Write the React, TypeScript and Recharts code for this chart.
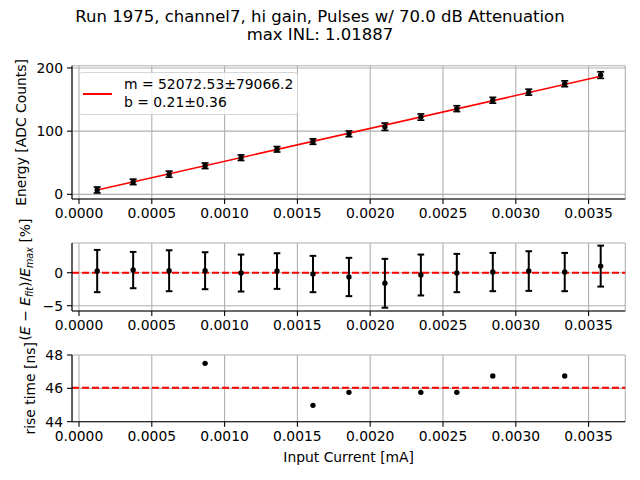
import React from 'react';
import {
  ComposedChart,
  Scatter,
  XAxis,
  YAxis,
  CartesianGrid,
  ErrorBar,
  ReferenceLine,
} from 'recharts';

// input current [mA] for each pulse setting
const currents = [
  0.000125, 0.000372, 0.000619, 0.000866, 0.001113, 0.00136, 0.001607, 0.001854,
  0.002101, 0.002348, 0.002595, 0.002842, 0.003089, 0.003336, 0.003583,
];
const energy = [6.9, 19.7, 31.9, 45.2, 58.0, 71.3, 83.5, 95.7, 107.0, 122.3, 135.6, 148.9, 161.7, 175.0, 188.8];
const energyErr = [4.7, 4.3, 4.8, 4.4, 4.4, 4.3, 4.3, 4.5, 5.8, 4.9, 4.6, 4.6, 4.7, 4.6, 5.2];
const residual = [0.25, 0.4, 0.3, 0.3, -0.05, 0.25, -0.2, -0.65, -1.6, -0.35, -0.05, 0.1, 0.25, 0.1, 1.0];
const residualErr = [3.2, 2.75, 3.1, 2.8, 2.8, 2.7, 2.75, 2.9, 3.7, 3.1, 2.9, 2.9, 3.0, 2.9, 3.1];
const riseCurrents = [0.000866, 0.001607, 0.001854, 0.002348, 0.002595, 0.002842, 0.003336];
const riseTimes = [47.5, 44.98, 45.76, 45.76, 45.76, 46.74, 46.74];
const riseMean = 46.03;
const fitCurrents = [0.000125, 0.003583];
const fitEnergy = [6.7, 186.8];

const xTicks = [0, 0.0005, 0.001, 0.0015, 0.002, 0.0025, 0.003, 0.0035];
const energyTicks = [0, 100, 200];
const residualTicks = [-5, 0];
const riseTicks = [44, 46, 48];

const X_DOMAIN: [number, number] = [-0.000048, 0.003752];
const FONT = 'DejaVu Sans';
const GRID = '#b0b0b0';

const energyData = currents.map((x, i) => ({ x, y: energy[i], err: energyErr[i] }));
const residualData = currents.map((x, i) => ({ x, y: residual[i], err: residualErr[i] }));
const riseData = riseCurrents.map((x, i) => ({ x, y: riseTimes[i] }));
const fitData = fitCurrents.map((x, i) => ({ x, y: fitEnergy[i] }));

const tickStyle = { fontSize: 13.9, fill: '#000', fontFamily: FONT };
const fmtY = (v: number) => (v < 0 ? '\u2212' + Math.abs(v) : String(v));
const dot = (p: any) => <circle cx={p.cx} cy={p.cy} r={2.7} fill="#000" />;

function xAxes(label?: any) {
  return [
    <XAxis
      key="x"
      xAxisId={0}
      type="number"
      dataKey="x"
      domain={X_DOMAIN}
      ticks={xTicks}
      allowDataOverflow
      tickFormatter={(v: number) => v.toFixed(4)}
      tick={tickStyle}
      tickSize={5}
      tickMargin={4}
      axisLine={{ stroke: '#000', strokeWidth: 1.1 }}
      tickLine={{ stroke: '#000', strokeWidth: 1.1 }}
      height={label ? 55 : 30}
      label={label}
    />,
    <XAxis
      key="t"
      xAxisId="t"
      orientation="top"
      type="number"
      domain={[0, 1]}
      height={0}
      tick={false}
      tickLine={false}
      axisLine={{ stroke: '#000', strokeWidth: 1.1 }}
    />,
  ];
}

function yAxes(domain: [number, number], ticks: number[], label: any) {
  return [
    <YAxis
      key="y"
      yAxisId={0}
      type="number"
      dataKey="y"
      domain={domain}
      ticks={ticks}
      allowDataOverflow
      tickFormatter={fmtY}
      tick={tickStyle}
      tickSize={5}
      tickMargin={4}
      width={72}
      axisLine={{ stroke: '#000', strokeWidth: 1.1 }}
      tickLine={{ stroke: '#000', strokeWidth: 1.1 }}
      label={label}
    />,
    <YAxis
      key="r"
      yAxisId="r"
      orientation="right"
      type="number"
      domain={[0, 1]}
      width={0}
      tick={false}
      tickLine={false}
      axisLine={{ stroke: '#000', strokeWidth: 1.1 }}
    />,
  ];
}

const rotated = (cx: number, cy: number, text: string) => () =>
  (
    <text
      x={cx}
      y={cy}
      transform={`rotate(-90 ${cx} ${cy})`}
      textAnchor="middle"
      dominantBaseline="central"
      fontSize={13.9}
      fontFamily={FONT}
      fill="#000"
    >
      {text}
    </text>
  );

const residualLabel = (cx: number, cy: number) => () =>
  (
    <text
      x={cx}
      y={cy}
      transform={`rotate(-90 ${cx} ${cy})`}
      textAnchor="middle"
      dominantBaseline="central"
      fontSize={13.9}
      fontFamily={FONT}
      fill="#000"
    >
      (<tspan fontStyle="italic">E</tspan>
      {' \u2212 '}
      <tspan fontStyle="italic">E</tspan>
      <tspan fontStyle="italic" fontSize={9.7} dy={3.5}>fit</tspan>
      <tspan dy={-3.5}>)/</tspan>
      <tspan fontStyle="italic">E</tspan>
      <tspan fontStyle="italic" fontSize={9.7} dy={3.5}>max</tspan>
      <tspan dy={-3.5}> [%]</tspan>
    </text>
  );

const xLabel = (p: any) => {
  const vb = p.viewBox || {};
  return (
    <text
      x={(vb.x ?? 72) + (vb.width ?? 553) / 2}
      y={(vb.y ?? 106.7) + 40}
      textAnchor="middle"
      fontSize={13.9}
      fontFamily={FONT}
      fill="#000"
    >
      Input Current [mA]
    </text>
  );
};

const M_RIGHT = 14.7;

export default function App() {
  return (
    <div
      style={{
        position: 'absolute',
        left: 0,
        top: 0,
        width: 640,
        height: 480,
        background: '#fff',
        fontFamily: FONT,
        overflow: 'hidden',
      }}
    >
      <div
        style={{
          position: 'absolute',
          top: 8,
          left: 0,
          width: 640,
          textAlign: 'center',
          fontSize: 16.5,
          lineHeight: '17.5px',
          color: '#000',
        }}
      >
        <div>Run 1975, channel7, hi gain, Pulses w/ 70.0 dB Attenuation</div>
        <div>max INL: 1.01887</div>
      </div>

      {/* energy vs current with linear fit */}
      <div style={{ position: 'absolute', left: 0, top: 45 }}>
        <ComposedChart
          width={640}
          height={184}
          margin={{ top: 20.7, right: M_RIGHT, bottom: 0, left: 0 }}
        >
          <CartesianGrid stroke={GRID} strokeWidth={1.1} />
          {xAxes()}
          {yAxes([-7.4, 203.6], energyTicks, { content: rotated(21, 20.7 + 66.7, 'Energy [ADC Counts]') })}
          <Scatter
            data={fitData}
            line={{ stroke: '#ff0000', strokeWidth: 1.6 }}
            shape={() => <g />}
            isAnimationActive={false}
          />
          <Scatter data={energyData} shape={dot} isAnimationActive={false}>
            <ErrorBar dataKey="err" direction="y" width={3.5} stroke="#000" strokeWidth={1.7} isAnimationActive={false} />
          </Scatter>
        </ComposedChart>
      </div>

      <div
        style={{
          position: 'absolute',
          left: 79,
          top: 71.5,
          width: 217,
          height: 41,
          border: '1px solid #d6d6d6',
          borderRadius: 3,
          background: 'rgba(255,255,255,0.8)',
          fontSize: 13.9,
          color: '#000',
        }}
      >
        <div style={{ position: 'absolute', left: 3, top: 20.5, width: 29, height: 1.6, background: '#ff0000' }} />
        <div style={{ position: 'absolute', left: 44, top: 2, lineHeight: '18px', whiteSpace: 'nowrap' }}>
          <div>m = 52072.53±79066.2</div>
          <div>b = 0.21±0.36</div>
        </div>
      </div>

      {/* residuals */}
      <div style={{ position: 'absolute', left: 0, top: 203.3 }}>
        <ComposedChart
          width={640}
          height={138}
          margin={{ top: 40, right: M_RIGHT, bottom: 0, left: 0 }}
        >
          <CartesianGrid stroke={GRID} strokeWidth={1.1} />
          {xAxes()}
          {yAxes([-5.8, 4.5], residualTicks, { content: residualLabel(25, 40 + 34 + 2.5) })}
          <ReferenceLine y={0} stroke="#ff0000" strokeWidth={2} strokeDasharray="7 3" />
          <Scatter data={residualData} shape={dot} isAnimationActive={false}>
            <ErrorBar dataKey="err" direction="y" width={3.3} stroke="#000" strokeWidth={2} isAnimationActive={false} />
          </Scatter>
        </ComposedChart>
      </div>

      {/* rise time */}
      <div style={{ position: 'absolute', left: 0, top: 315 }}>
        <ComposedChart
          width={640}
          height={161.7}
          margin={{ top: 40, right: M_RIGHT, bottom: 0, left: 0 }}
        >
          <CartesianGrid stroke={GRID} strokeWidth={1.1} />
          {xAxes({ content: xLabel })}
          {yAxes([44, 48], riseTicks, { content: rotated(30, 40 + 33.3, 'rise time [ns]') })}
          <ReferenceLine y={riseMean} stroke="#ff0000" strokeWidth={2} strokeDasharray="7 3" />
          <Scatter data={riseData} shape={dot} isAnimationActive={false} />
        </ComposedChart>
      </div>
    </div>
  );
}
